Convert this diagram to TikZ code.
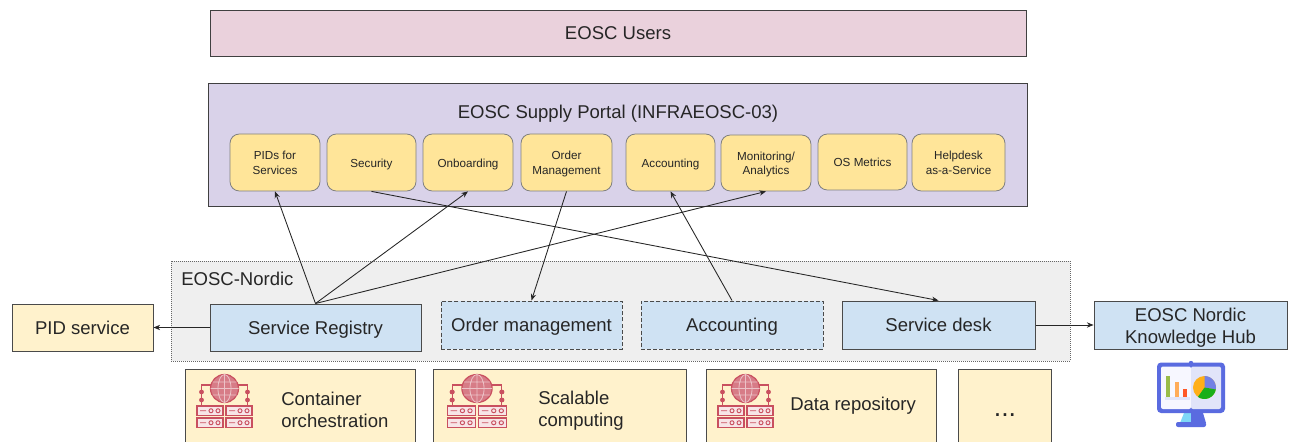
\documentclass[tikz,border=0pt]{standalone}
\usepackage{fontspec}
\setmainfont{Liberation Sans}
\usetikzlibrary{arrows.meta,calc}
\definecolor{linegray}{HTML}{4A4A4A}
\definecolor{userpink}{HTML}{EAD1DC}
\definecolor{portalpurple}{HTML}{D9D2E9}
\definecolor{tileyellow}{HTML}{FFE599}
\definecolor{paleyellow}{HTML}{FFF2CC}
\definecolor{paleblue}{HTML}{CFE2F3}
\definecolor{nordicgray}{HTML}{EFEFEF}
\definecolor{iconred}{HTML}{C9505F}
\definecolor{iconblue}{HTML}{5A6BE0}
\newcommand\Dn[2]{\raisebox{-#1}[\height][\depth]{\begin{tabular}{@{}c@{}}#2\end{tabular}}}
\newcommand\BigT[1]{\Dn{1.7pt}{#1}}
\newcommand\Tile[1]{\Dn{1.2pt}{#1}}
\tikzset{
  x=0.75pt,y=-0.75pt,
  base/.style={inner sep=0pt,align=center,text=black!85,font=\fontsize{13.9}{16.5}\selectfont},
  band/.style={base,draw=black!75,line width=0.6pt},
  tile/.style={base,draw=black!50,line width=0.6pt,fill=tileyellow,rounded corners=7pt,font=\fontsize{8.75}{11}\selectfont},
  svc/.style={base,draw=linegray,line width=0.75pt,fill=paleblue},
  svcdash/.style={svc,dash pattern=on 3pt off 1.6pt},
  pale/.style={base,draw=linegray,line width=0.75pt,fill=paleyellow},
  conn/.style={draw=black!85,line width=0.65pt,-{Stealth[length=5pt,width=4pt]}},
  srv/.style={draw=iconred,line width=0.8pt,fill=iconred!15},
  pics/netserver/.style={code={
    \draw[iconred,line width=0.8pt] (-11,-3.5)--(-23,-3.5)--(-23,17.5) (11,-3.5)--(23,-3.5)--(23,17.5);
    \fill[iconred] (-23,3.5) circle (2.4) (-23,11.5) circle (2.4) (23,3.5) circle (2.4) (23,11.5) circle (2.4);
    \draw[iconred,line width=0.9pt,fill=iconred!75] (0,0) circle (14);
    \draw[iconred!35,line width=0.6pt] (0,0) ellipse (6.5 and 14) (-14,0)--(14,0) (-12,-6.5)--(12,-6.5) (-12,6.5)--(12,6.5) (0,-14)--(0,14);
    \foreach \xa in {-27.5,1.5}\foreach \ya in {17.5,29.5}{
      \draw[srv] (\xa,\ya) rectangle ++(26,9.5);
      \draw[iconred,line width=0.7pt] (\xa+3,\ya+4.75)--(\xa+9,\ya+4.75) (\xa+14,\ya+4.75) circle (2) (\xa+21,\ya+4.75) circle (2);
    }
  }},
}
\begin{document}
\begin{tikzpicture}
\useasboundingbox (0,0) rectangle (1289,442);
\clip (0,0) rectangle (1289,442);

\node[band,fill=userpink,minimum width=612pt,minimum height=34.5pt] (users) at (618,33) {\BigT{EOSC Users}};
\node[band,fill=portalpurple,minimum width=614.25pt,minimum height=92.25pt] (portal) at (617.5,144.5) {};
\node[base] (portaltitle) at (618,114) {EOSC Supply Portal (INFRAEOSC-03)};

\node[tile,minimum width=67.5pt,minimum height=42.75pt] (pids) at (275,162.5) {\Tile{PIDs for\\Services}};
\node[tile,minimum width=66.75pt,minimum height=42.75pt] (security) at (371.5,162.5) {\Tile{Security}};
\node[tile,minimum width=67.5pt,minimum height=42.75pt] (onboarding) at (468,162.5) {\Tile{Onboarding}};
\node[tile,minimum width=68.25pt,minimum height=42.75pt] (ordertile) at (566.5,162.5) {\Tile{Order\\Management}};
\node[tile,minimum width=66.75pt,minimum height=42.75pt] (accounttile) at (670.5,162.5) {\Tile{Accounting}};
\node[tile,minimum width=67.5pt,minimum height=42pt] (monitoring) at (766,163) {\Tile{Monitoring/\\Analytics}};
\node[tile,minimum width=66.75pt,minimum height=42pt] (osmetrics) at (862.5,162) {\Tile{OS Metrics}};
\node[tile,minimum width=69.75pt,minimum height=42.75pt] (helpdesk) at (958.5,162.5) {\Tile{Helpdesk\\as-a-Service}};

\node[base,draw=black!60,densely dotted,line width=0.5pt,fill=nordicgray,minimum width=674.25pt,minimum height=75pt] (nordic) at (620.5,311) {};
\node[base,anchor=west] (nordiclabel) at (181,278.5) {EOSC-Nordic};

\node[svc,minimum width=158.25pt,minimum height=35.25pt] (registry) at (315.5,327.5) {\BigT{Service Registry}};
\node[svcdash,minimum width=135.75pt,minimum height=36pt] (ordermgmt) at (531.5,325) {\BigT{Order management}};
\node[svcdash,minimum width=136.5pt,minimum height=36pt] (accounting) at (732,325) {\BigT{Accounting}};
\node[svc,minimum width=144.75pt,minimum height=36pt] (servicedesk) at (938.5,325) {\BigT{Service desk}};
\node[pale,minimum width=105.75pt,minimum height=35.25pt] (pidservice) at (82.5,327.5) {\BigT{PID service}};
\node[svc,minimum width=144.75pt,minimum height=36pt] (hub) at (1190.5,325) {\Dn{2.2pt}{EOSC Nordic\\Knowledge Hub}};

\node[pale,minimum width=172.5pt,minimum height=60pt] (container) at (300,409) {};
\node[pale,minimum width=189.75pt,minimum height=60pt] (scalable) at (559.5,409) {};
\node[pale,minimum width=172.5pt,minimum height=60pt] (datarepo) at (821,409) {};
\node[pale,minimum width=69.75pt,minimum height=60pt] (more) at (1004.5,409) {};
\node[base,font=\fontsize{20}{22}\selectfont] (dots) at (1005,415) {...};

\node[base,anchor=west,align=left] (containertext) at (281,409.5) {Container\\orchestration};
\node[base,anchor=west,align=left] (scalabletext) at (538,411) {Scalable\\computing};
\node[base,anchor=west] (datatext) at (790,405.5) {Data repository};

\pic at (224.5,388.5) {netserver};
\pic[xscale=1.08] at (477,388.5) {netserver};
\pic at (745.5,388.5) {netserver};

% dashboard icon
\fill[iconblue!45!cyan!60!white] (1184,413) -- (1191,413) -- (1191,423) -- (1180,423) -- cycle;
\fill[iconblue] (1191,413) -- (1203,413) -- (1206,423) -- (1191,423) -- cycle;
\fill[iconblue,rounded corners=1.5pt] (1176,422) rectangle (1206,427);
\fill[iconblue,rounded corners=3pt] (1157,362.5) rectangle (1225,413);
\fill[black!2!blue!3,rounded corners=1.5pt] (1161,366.5) rectangle (1191,409);
\fill[iconblue!18,rounded corners=1.5pt] (1191,366.5) rectangle (1221,409);
\fill[iconblue] (1191,363) circle (2.2);
\fill[iconblue!18] (1165,397) rectangle (1190,400);
\fill[yellow!60!green!80!black!90] (1166,376) rectangle (1169.5,397);
\fill[orange!65] (1175,382) rectangle (1179,397);
\fill[red!55!orange!85] (1183,389) rectangle (1187,397);
\begin{scope}[shift={(1204.5,387.5)},y=0.75pt]
\fill[orange!70!yellow!90] (0,0) circle (11.5);
\fill[iconblue!85] (0,0) -- (0,11.5) arc[start angle=90,end angle=-10,radius=11.5] -- cycle;
\fill[green!65!black!90] (0,0) -- (-10:11.5) arc[start angle=-10,end angle=-125,radius=11.5] -- cycle;
\end{scope}

\draw[conn] (registry.north) -- (pids.south);
\draw[conn] (registry.north) -- (onboarding.south);
\draw[conn] (registry.north) -- (monitoring.south);
\draw[conn] (security.south) -- (servicedesk.north);
\draw[conn] (ordertile.south) -- (ordermgmt.north);
\draw[conn] (accounting.north) -- (accounttile.south);
\draw[conn] (registry.west) -- (pidservice.east);
\draw[conn] (servicedesk.east) -- (hub.west);
\end{tikzpicture}
\end{document}
